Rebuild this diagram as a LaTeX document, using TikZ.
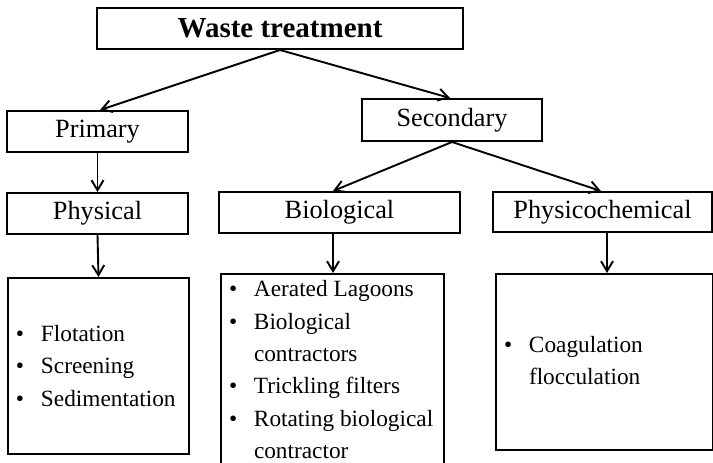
\documentclass[tikz,border=0pt]{standalone}
\usepackage{fontspec}
\setmainfont{Liberation Serif}
\usetikzlibrary{arrows.meta}
\newcommand\bitem[1]{\hspace*{8pt}\makebox[25pt][l]{•}#1\strut\par}
\newcommand\bcont[1]{\hspace*{33pt}#1\strut\par}
\newcommand\listfont{\fontsize{23.3}{32.4}\selectfont}
\begin{document}
\begin{tikzpicture}[x=1pt,y=-1pt,
  box/.style={draw=black, line width=2pt, inner sep=0pt, minimum height=41pt,
    font=\fontsize{26.3}{30}\selectfont},
  listbox/.style={draw=black, line width=2pt, inner sep=0pt, anchor=north west},
  arr/.style={draw=black, line width=1.9pt, -{Straight Barb[length=10pt,width=12pt]}}]
\useasboundingbox (0,0) rectangle (713,463);
\node[box, minimum width=366pt, font=\fontsize{29}{30}\selectfont\bfseries] (waste) at (280,28.5) {Waste treatment};
\node[box, minimum width=181pt] (primary) at (97.5,131.5) {Primary};
\node[box, minimum width=180pt, minimum height=42pt] (secondary) at (452,120) {Secondary};
\node[box, minimum width=181pt] (physical) at (97.5,213.5) {Physical};
\node[box, minimum width=241pt] (biological) at (339.5,212.5) {Biological};
\node[box, minimum width=219pt, minimum height=40pt] (physchem) at (602.5,212) {Physicochemical};
\node[listbox] (physlist) at (7,277) {\parbox[c][176pt][c]{181pt}{\listfont
  \vspace*{3pt}
  \bitem{Flotation}
  \bitem{Screening}
  \bitem{Sedimentation}}};
\node[listbox] (biolist) at (220,273) {\parbox[c][197pt][t]{223pt}{\listfont
  \bitem{Aerated Lagoons}
  \bitem{Biological}
  \bcont{contractors}
  \bitem{Trickling filters}
  \bitem{Rotating biological}
  \bcont{contractor}}};
\node[listbox] (pclist) at (495,273) {\parbox[c][176pt][c]{217pt}{\listfont
  \bitem{Coagulation}
  \bcont{flocculation}}};
\draw[arr] (waste.south) -- ([xshift=2.5pt]primary.north);
\draw[arr] (waste.south) -- ([xshift=-2pt]secondary.north);
\draw[arr] (secondary.south) -- ([xshift=-6.5pt]biological.north);
\draw[arr] (secondary.south) -- ([xshift=-1.5pt]physchem.north);
\draw[arr] (primary.south) -- (physical.north);
\draw[arr] (physical.south) -- (physlist.north);
\draw[arr] ([xshift=-6.5pt]biological.south) -- ([xshift=-6.5pt]biological.south |- biolist.north);
\draw[arr] ([xshift=4.5pt]physchem.south) -- ([xshift=4.5pt]physchem.south |- pclist.north);
\end{tikzpicture}
\end{document}
